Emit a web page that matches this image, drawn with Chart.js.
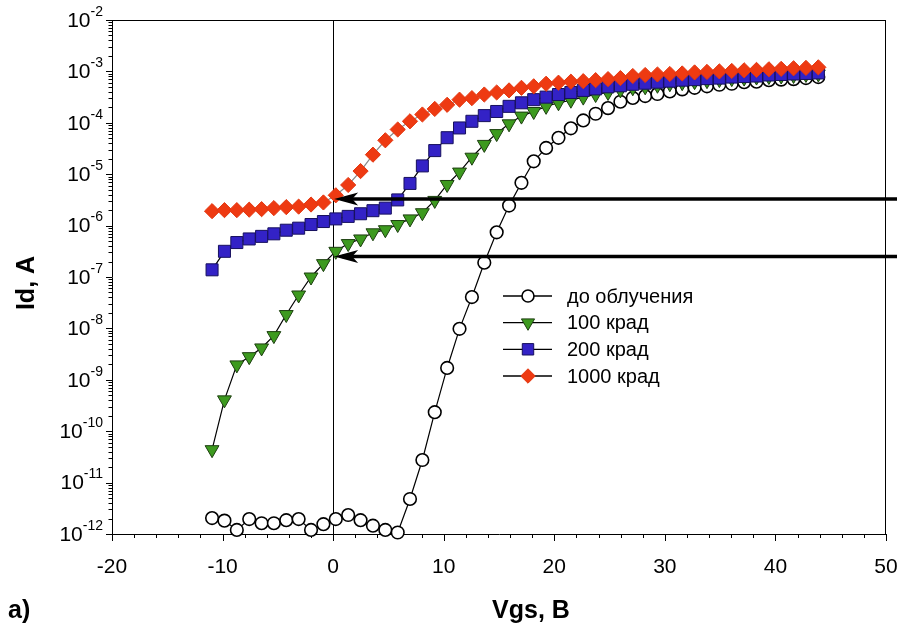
<!DOCTYPE html>
<html><head><meta charset="utf-8">
<script src="https://cdn.jsdelivr.net/npm/chart.js@4.4.0/dist/chart.umd.min.js"></script>
<style>html,body{margin:0;padding:0;background:#fff;}#wrap{width:897px;height:626px;}</style>
</head><body><div id="wrap"><canvas id="c" width="897" height="626"></canvas></div>
<script>
const vgs = [-10.95,-9.83,-8.71,-7.59,-6.47,-5.36,-4.24,-3.12,-2.00,-0.88,0.24,1.36,2.48,3.60,4.72,5.84,6.95,8.07,9.19,10.31,11.43,12.55,13.67,14.79,15.91,17.03,18.14,19.26,20.38,21.50,22.62,23.74,24.86,25.98,27.10,28.22,29.33,30.45,31.57,32.69,33.81,34.93,36.05,37.17,38.29,39.41,40.52,41.64,42.76,43.88];
const idBefore = [2.04e-12,1.82e-12,1.2e-12,1.95e-12,1.62e-12,1.62e-12,1.86e-12,1.95e-12,1.2e-12,1.55e-12,1.95e-12,2.34e-12,1.86e-12,1.45e-12,1.2e-12,1.07e-12,4.8e-12,2.75e-11,2.34e-10,1.7e-9,9.8e-9,4.07e-8,1.9e-7,7.4e-7,2.45e-6,6.8e-6,1.78e-5,3.24e-5,5.1e-5,7.8e-5,1.11e-4,1.5e-4,1.93e-4,2.57e-4,3.05e-4,3.31e-4,3.63e-4,4.07e-4,4.47e-4,4.79e-4,5.13e-4,5.5e-4,5.75e-4,6.17e-4,6.31e-4,6.76e-4,6.92e-4,7.08e-4,7.41e-4,7.76e-4];
const id100 = [4.37e-11,4.07e-10,1.95e-9,2.82e-9,4.17e-9,7.24e-9,1.86e-8,4.47e-8,1.0e-7,1.82e-7,3.16e-7,4.47e-7,5.5e-7,7.24e-7,8.32e-7,1.05e-6,1.35e-6,1.78e-6,3.09e-6,6.31e-6,1.1e-5,2.14e-5,3.8e-5,6.17e-5,9.55e-5,1.35e-4,1.66e-4,2.09e-4,2.45e-4,2.75e-4,3.16e-4,3.55e-4,3.89e-4,4.37e-4,4.79e-4,5.01e-4,5.37e-4,5.75e-4,6.03e-4,6.31e-4,6.61e-4,6.92e-4,7.24e-4,7.41e-4,7.76e-4,7.94e-4,8.13e-4,8.32e-4,8.71e-4,8.91e-4];
const id200 = [1.38e-7,3.16e-7,4.68e-7,5.5e-7,6.17e-7,6.92e-7,8.13e-7,8.91e-7,1.05e-6,1.2e-6,1.35e-6,1.51e-6,1.7e-6,1.95e-6,2.19e-6,3.16e-6,6.61e-6,1.45e-5,2.88e-5,5.13e-5,7.94e-5,1.07e-4,1.38e-4,1.66e-4,2.09e-4,2.45e-4,2.82e-4,3.16e-4,3.55e-4,3.89e-4,4.27e-4,4.57e-4,5.01e-4,5.25e-4,5.62e-4,5.89e-4,6.17e-4,6.46e-4,6.76e-4,6.92e-4,7.24e-4,7.41e-4,7.76e-4,7.94e-4,8.13e-4,8.51e-4,8.71e-4,8.91e-4,9.12e-4,9.33e-4];
const id1000 = [1.91e-6,2.0e-6,2.0e-6,2.04e-6,2.09e-6,2.19e-6,2.29e-6,2.34e-6,2.57e-6,2.82e-6,3.89e-6,6.17e-6,1.15e-5,2.4e-5,4.57e-5,7.41e-5,1.07e-4,1.45e-4,1.86e-4,2.24e-4,2.82e-4,3.02e-4,3.55e-4,3.89e-4,4.27e-4,4.79e-4,5.13e-4,5.75e-4,6.03e-4,6.31e-4,6.46e-4,6.76e-4,7.08e-4,7.41e-4,8.13e-4,8.51e-4,8.71e-4,8.91e-4,9.12e-4,9.55e-4,9.77e-4,1.0e-3,1.02e-3,1.05e-3,1.07e-3,1.10e-3,1.12e-3,1.15e-3,1.17e-3,1.20e-3];
const seriesNames = ['до облучения','100 крад','200 крад','1000 крад'];
const xTickValues = [-20,-10,0,10,20,30,40,50];
const yDecadeExps = [-12,-11,-10,-9,-8,-7,-6,-5,-4,-3,-2];
const arrowLevels = [3.3e-6, 2.5e-7];
const xTitle = 'Vgs, B';
const yTitle = 'Id, A';
const panelLabel = 'a)';

const FONT = '"Liberation Sans", Arial, Helvetica, sans-serif';
const pts = arr => arr.map((v,i)=>({x:vgs[i], y:v}));

const styles = [
  {pointStyle:'circle', radius:6.3, rotation:0, bg:'#ffffff', bc:'#000000', bw:1.6, line:'#000000'},
  {pointStyle:'triangle', radius:8, rotation:180, bg:'#3d9a1f', bc:'#1d3f10', bw:1, line:'#000000'},
  {pointStyle:'rect', radius:8.5, rotation:0, bg:'#3322c6', bc:'#17105e', bw:1, line:'#000000'},
  {pointStyle:'rectRot', radius:7.6, rotation:0, bg:'#ee3a12', bc:'#e3360f', bw:1, line:'#8a8a8a'}
];
const seriesData = [idBefore, id100, id200, id1000];
const orders = [3,2,1,0];

const datasets = seriesData.map((arr,i)=>({
  label: seriesNames[i],
  data: pts(arr),
  showLine: true,
  tension: 0,
  borderColor: styles[i].line,
  borderWidth: 1.2,
  pointStyle: styles[i].pointStyle,
  pointRadius: styles[i].radius,
  pointRotation: styles[i].rotation,
  pointBackgroundColor: styles[i].bg,
  pointBorderColor: styles[i].bc,
  pointBorderWidth: styles[i].bw,
  pointHoverRadius: styles[i].radius,
  clip: false,
  order: orders[i]
}));

const decor = {
  id:'decor',
  beforeDatasetsDraw(chart){
    const {ctx, chartArea:a, scales:{x,y}} = chart;
    ctx.save();
    ctx.strokeStyle='#000'; ctx.lineWidth=1;
    ctx.beginPath();
    ctx.moveTo(a.left, a.top+0.5); ctx.lineTo(a.right, a.top+0.5);
    ctx.moveTo(a.right-0.5, a.top); ctx.lineTo(a.right-0.5, a.bottom);
    ctx.stroke();
    const x0 = Math.round(x.getPixelForValue(0))+0.5;
    ctx.beginPath(); ctx.moveTo(x0, a.top); ctx.lineTo(x0, a.bottom); ctx.stroke();
    ctx.beginPath();
    yDecadeExps.forEach(e=>{
      const yy = Math.round(y.getPixelForValue(Math.pow(10,e)))+0.5;
      ctx.moveTo(a.left-6, yy); ctx.lineTo(a.left, yy);
      if (e < -2) {
        for (let m=2;m<=9;m++){
          const ym = Math.round(y.getPixelForValue(m*Math.pow(10,e)))+0.5;
          ctx.moveTo(a.left-3.5, ym); ctx.lineTo(a.left, ym);
        }
      }
    });
    for (let v=-20; v<=50; v+=2){
      const xx = Math.round(x.getPixelForValue(v))+0.5;
      const len = (v%10===0)?7:4;
      ctx.moveTo(xx, a.bottom); ctx.lineTo(xx, a.bottom+len);
    }
    ctx.stroke();
    ctx.fillStyle='#000';
    ctx.textBaseline='middle';
    yDecadeExps.forEach(e=>{
      const yy = y.getPixelForValue(Math.pow(10,e));
      const exp = String(e);
      ctx.font = '14px '+FONT;
      const ew = ctx.measureText(exp).width;
      const right = a.left - 9;
      ctx.textAlign='left';
      ctx.fillText(exp, right-ew, yy-8);
      ctx.font = '21px '+FONT;
      ctx.textAlign='right';
      ctx.fillText('10', right-ew, yy+1);
    });
    ctx.font = 'bold 25px '+FONT;
    ctx.textAlign='center'; ctx.textBaseline='alphabetic';
    ctx.fillText(xTitle, 531, 618);
    ctx.textAlign='left';
    ctx.fillText(panelLabel, 8, 618);
    ctx.save();
    ctx.translate(34, 283); ctx.rotate(-Math.PI/2);
    ctx.textAlign='center'; ctx.textBaseline='alphabetic';
    ctx.fillText(yTitle, 0, 0);
    ctx.restore();
    ctx.restore();
  },
  afterDatasetsDraw(chart){
    const {ctx, scales:{x,y}, width} = chart;
    ctx.save();
    ctx.strokeStyle='#000'; ctx.fillStyle='#000';
    arrowLevels.forEach(v=>{
      const yy = y.getPixelForValue(v);
      const tip = x.getPixelForValue(0) + 1;
      ctx.lineWidth = 3.5;
      ctx.beginPath(); ctx.moveTo(tip+8, yy); ctx.lineTo(width, yy); ctx.stroke();
      ctx.beginPath();
      ctx.moveTo(tip, yy);
      ctx.lineTo(tip+24, yy-6.5);
      ctx.lineTo(tip+18, yy);
      ctx.lineTo(tip+24, yy+6.5);
      ctx.closePath(); ctx.fill();
    });
    const rows = [296, 322.7, 349.3, 376];
    rows.forEach((ry,i)=>{
      const s = styles[i];
      ctx.strokeStyle='#000'; ctx.lineWidth=1.3;
      ctx.beginPath(); ctx.moveTo(503, ry); ctx.lineTo(552, ry); ctx.stroke();
      ctx.fillStyle=s.bg; ctx.strokeStyle=s.bc; ctx.lineWidth=s.bw;
      Chart.helpers.drawPoint(ctx, {pointStyle:s.pointStyle, radius:s.radius*0.95, rotation:s.rotation, borderWidth:s.bw}, 528, ry);
      ctx.fillStyle='#000';
      ctx.font='20px '+FONT; ctx.textAlign='left'; ctx.textBaseline='middle';
      ctx.fillText(seriesNames[i], 567, ry+1);
    });
    ctx.restore();
  }
};

new Chart(document.getElementById('c'), {
  type:'scatter',
  data:{datasets},
  options:{
    responsive:false, animation:false, devicePixelRatio:1,
    layout:{padding:{top:20,right:11,left:0,bottom:0}},
    plugins:{legend:{display:false}, tooltip:{enabled:false}},
    scales:{
      x:{type:'linear', min:-20, max:50,
        afterBuildTicks: s=>{ s.ticks = xTickValues.map(v=>({value:v})); },
        ticks:{font:{size:21,family:FONT}, color:'#000', padding:21, maxRotation:0, autoSkip:false},
        grid:{display:false, drawTicks:false},
        border:{display:true, color:'#000', width:1},
        afterFit: s=>{ s.height = 92; s.paddingRight = 0; s.paddingLeft = 0; }
      },
      y:{type:'logarithmic', min:1e-12, max:1e-2,
        ticks:{display:false},
        grid:{display:false, drawTicks:false},
        border:{display:true, color:'#000', width:1},
        afterFit: s=>{ s.width = 112; s.paddingTop = 0; s.paddingBottom = 0; }
      }
    }
  },
  plugins:[decor]
});
</script></body></html>
